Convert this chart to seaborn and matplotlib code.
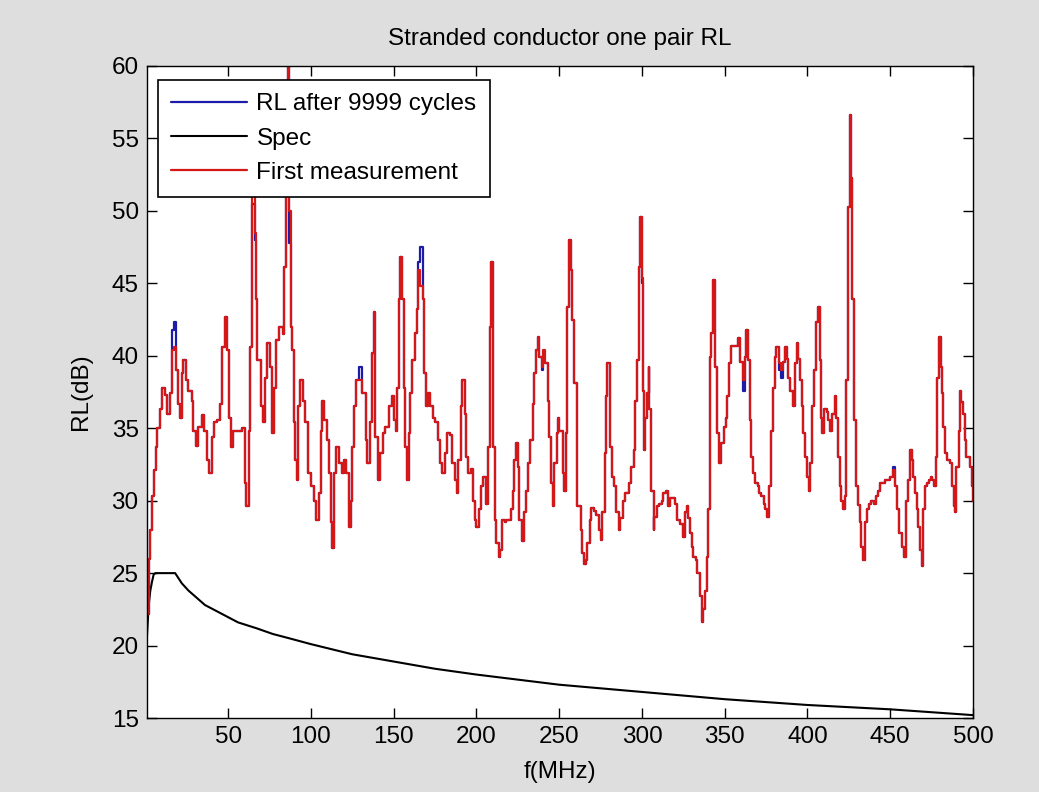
import matplotlib
matplotlib.use("Agg")
import pandas as pd
import matplotlib.pyplot as plt
import seaborn as sns

# frequency points (MHz)
freq = [1, 2, 2.5, 4, 5, 6.5, 7, 9, 10, 12,
        13, 15, 16, 17, 18.5, 20, 21, 22, 23, 24.5,
        26, 28, 29, 30.5, 32, 34, 35.5, 37, 38.5, 40,
        41.5, 43, 45, 46.5, 48, 49.5, 50.5, 52, 53, 57,
        58.5, 60, 61, 62.5, 63.5, 64.5, 66, 67, 67.5, 70,
        71, 72, 73.5, 75, 76.5, 78, 79, 81, 83, 84,
        85, 86, 87, 88, 88.5, 89.5, 90.5, 91.5, 92.5, 93.5,
        95, 96.5, 98, 100, 102, 103, 105, 106, 107, 108,
        109.5, 111, 112, 113, 114, 115, 117, 119, 120, 121,
        123, 124, 125, 126, 127.5, 129, 131, 133, 134, 136,
        137, 138, 139, 140.5, 142, 143.5, 145, 147, 149, 150,
        151.5, 152, 153, 154, 155, 156, 157, 158, 159, 160,
        161, 163, 164, 165, 166, 167.5, 168.5, 169.5, 170.5, 172,
        173.5, 175, 176.5, 178, 179.5, 181, 182.5, 184, 185.5, 187,
        188, 189, 190.5, 191.5, 193, 193.5, 195, 196.5, 198, 199,
        200, 201.5, 202.5, 204, 205.5, 206, 207, 208, 209, 210,
        211, 212, 213.5, 214.5, 215.5, 217, 218, 219.5, 221, 222,
        223, 224, 225, 226, 227.5, 228.5, 230, 231, 232.5, 234,
        235, 236, 237, 238, 239.5, 240.5, 241.5, 243, 244, 245,
        246, 247, 248.5, 249, 250, 252, 253, 254, 255, 256,
        257, 258, 259, 260.5, 261, 263, 264, 265, 266, 267,
        268.5, 269.5, 271, 272.5, 274, 275, 276, 277.5, 278.5, 279,
        280.5, 282, 283, 284.5, 286, 287, 288.5, 289.5, 291, 292,
        293.5, 295, 296, 297, 298, 299, 300, 300.5, 301, 302,
        303, 304, 304.5, 305.5, 307, 307.5, 309, 310.5, 312, 313,
        314.5, 315.5, 317, 318.5, 320, 321, 323, 324.5, 326, 327,
        328, 329, 330, 331, 332.5, 333.5, 335, 336, 337, 338,
        339, 340, 341, 342, 343, 344, 345.5, 346.5, 348, 349.5,
        350.5, 351.5, 352.5, 354, 356.5, 358, 359.5, 361, 362, 363,
        364, 365.5, 366, 367, 368.5, 370, 371, 372, 373.5, 374.5,
        375.5, 376.5, 378, 379, 380.5, 381, 383, 384, 385, 386.5,
        387.5, 388.5, 389.5, 391, 392.5, 393.5, 394.5, 395.5, 396.5, 397.5,
        398.5, 399.5, 401, 401.5, 403, 404, 405, 406.5, 407.5, 408,
        409, 410, 411.5, 412.5, 413.5, 415, 416.5, 417.5, 418.5, 419.5,
        420.5, 421.5, 422.5, 423, 423.5, 424.5, 425.5, 426, 427, 428,
        429.5, 430.5, 431.5, 432.5, 433.5, 434.5, 436, 437, 438.5, 440,
        441.5, 442.5, 444, 445.5, 447, 448.5, 450, 451.5, 453, 454,
        455.5, 457, 458.5, 459.5, 461, 462, 463, 464, 465, 466,
        467, 468, 469, 470, 471, 472, 473.5, 474.5, 475.5, 476.5,
        477.5, 478, 479.5, 480.5, 481, 482, 483, 484.5, 486, 487,
        488.5, 489, 490, 491.5, 492, 493, 494, 495, 496, 497,
        498, 499.5, 500]

# first measurement RL (dB)
rl_first = [22.2, 26.0, 28.0, 30.3, 32.1, 33.7, 35.0, 36.3, 37.8, 37.3,
            36.0, 37.4, 40.4, 40.6, 39.0, 36.7, 35.7, 38.8, 39.7, 38.3,
            37.6, 36.9, 34.8, 33.8, 35.1, 35.9, 34.8, 32.8, 31.9, 34.4,
            35.4, 35.6, 36.7, 40.6, 42.7, 40.4, 35.7, 33.7, 34.8, 34.8,
            35.0, 31.2, 29.6, 34.8, 40.6, 52.0, 48.5, 43.9, 39.7, 36.5,
            35.4, 38.5, 40.9, 39.2, 34.7, 37.8, 41.1, 42.0, 41.5, 46.1,
            52.0, 61.0, 50.0, 42.0, 40.4, 35.4, 32.8, 31.4, 36.5, 38.3,
            36.9, 35.4, 31.9, 31.0, 30.0, 28.7, 30.5, 34.8, 36.9, 35.6,
            34.2, 31.9, 28.5, 26.7, 31.9, 33.7, 32.6, 31.9, 32.8, 31.9,
            28.2, 30.0, 33.7, 36.5, 38.3, 38.3, 37.4, 34.2, 32.6, 35.4,
            40.2, 43.0, 34.4, 31.4, 33.3, 34.7, 35.1, 36.5, 37.2, 35.6,
            34.8, 37.8, 43.9, 46.8, 43.9, 37.8, 33.7, 31.4, 34.7, 37.4,
            39.7, 41.6, 43.2, 45.9, 44.8, 43.9, 38.8, 36.5, 37.4, 36.5,
            35.7, 35.4, 34.2, 32.6, 31.9, 33.3, 34.7, 34.5, 32.6, 31.4,
            30.5, 32.8, 36.5, 38.3, 36.0, 33.0, 31.9, 32.2, 30.0, 28.7,
            28.2, 29.4, 31.0, 31.6, 30.7, 29.8, 33.7, 42.0, 46.5, 33.7,
            28.7, 27.1, 26.1, 26.6, 28.7, 28.5, 28.7, 28.7, 29.4, 30.7,
            32.8, 34.0, 32.3, 28.7, 27.2, 29.2, 30.7, 32.6, 34.2, 36.7,
            38.8, 40.4, 41.3, 39.9, 39.2, 40.4, 39.5, 36.9, 34.4, 31.2,
            29.6, 32.6, 34.7, 35.7, 34.8, 31.9, 30.7, 34.7, 43.4, 48.0,
            45.9, 42.5, 38.1, 33.0, 29.6, 28.0, 26.4, 25.6, 25.9, 27.1,
            28.7, 29.5, 29.3, 29.0, 28.0, 27.3, 29.2, 33.3, 37.2, 39.5,
            33.7, 31.6, 31.0, 29.2, 28.0, 28.8, 30.0, 30.5, 30.5, 31.2,
            32.3, 33.5, 36.9, 39.7, 46.1, 49.6, 45.4, 37.6, 33.5, 35.7,
            37.4, 39.2, 36.3, 30.7, 28.0, 28.9, 29.6, 29.8, 30.0, 30.5,
            30.7, 29.6, 30.2, 30.2, 29.8, 28.7, 28.4, 27.5, 29.2, 29.6,
            28.8, 27.8, 26.8, 26.1, 25.9, 25.0, 23.4, 21.6, 22.5, 23.8,
            26.1, 29.4, 39.9, 41.6, 45.2, 39.2, 34.7, 32.6, 34.0, 35.1,
            35.7, 37.2, 39.5, 40.7, 40.7, 41.2, 39.6, 38.3, 39.9, 41.8,
            39.7, 35.6, 33.0, 31.9, 31.2, 31.0, 30.5, 30.3, 29.8, 29.4,
            28.9, 31.0, 34.8, 37.8, 39.9, 40.6, 39.5, 39.0, 39.6, 40.6,
            39.8, 38.5, 37.6, 36.5, 39.5, 40.9, 39.8, 38.3, 36.5, 34.7,
            33.0, 31.6, 30.7, 32.6, 36.5, 39.0, 42.3, 43.4, 39.7, 35.7,
            34.7, 36.3, 36.1, 35.6, 34.8, 36.0, 37.2, 35.7, 33.0, 31.0,
            30.0, 29.4, 30.3, 31.6, 38.3, 50.3, 56.6, 52.3, 43.9, 35.6,
            31.0, 29.7, 28.5, 26.8, 25.9, 28.5, 29.4, 29.8, 30.0, 29.8,
            30.3, 30.7, 31.2, 31.2, 31.4, 31.4, 31.6, 32.1, 31.0, 29.4,
            27.8, 26.8, 26.1, 30.0, 31.4, 33.5, 32.8, 31.6, 30.5, 29.4,
            28.2, 26.6, 25.5, 29.4, 31.0, 31.2, 31.4, 31.6, 31.4, 31.0,
            33.0, 38.5, 41.3, 39.2, 37.4, 35.1, 33.3, 32.8, 32.6, 31.0,
            29.6, 29.2, 32.3, 34.8, 37.6, 36.8, 36.0, 34.2, 33.0, 33.0,
            32.3, 31.0, 30.0]

# points where the 9999-cycle trace differs from the first measurement
cycles_freq = [16, 17, 64.5, 66, 87, 129, 165, 166, 239.5, 240.5, 300, 361, 383, 384, 451.5]
cycles_db = [41.8, 42.3, 50.5, 48.0, 47.8, 39.2, 46.5, 47.5, 39.0, 39.6, 45.0, 37.6, 39.0, 38.5, 32.3]

# spec limit
spec_f = [1, 2, 3, 4, 5, 6, 10, 18, 22, 26, 30, 36, 46, 56, 67, 77, 87, 100,
          125, 150, 175, 200, 250, 300, 350, 400, 450, 500]
spec_db = [20.7, 22.8, 23.8, 24.4, 24.9, 25.0, 25.0, 25.0, 24.3, 23.8, 23.4, 22.8, 22.2,
           21.6, 21.2, 20.8, 20.5, 20.1, 19.4, 18.9, 18.4, 18.0, 17.3, 16.8, 16.3, 15.9, 15.6, 15.2]

overrides = dict(zip(cycles_freq, cycles_db))
rl_cycles = [overrides.get(f, v) for f, v in zip(freq, rl_first)]

df = pd.DataFrame({"f": freq, "first": rl_first, "cycles": rl_cycles})
spec = pd.DataFrame({"f": spec_f, "spec": spec_db})

sns.set_style("ticks")
plt.rcParams["font.family"] = ["Liberation Sans", "DejaVu Sans"]
plt.rcParams["text.color"] = "black"
plt.rcParams["axes.labelcolor"] = "black"
plt.rcParams["xtick.color"] = "black"
plt.rcParams["ytick.color"] = "black"
fs = 17.5

fig, ax = plt.subplots(figsize=(10.39, 7.92), dpi=100)
fig.patch.set_facecolor("#dedede")
fig.subplots_adjust(left=0.1415, right=0.9365, bottom=0.0934, top=0.9167)

sns.lineplot(data=df, x="f", y="cycles", color="#1c1ca8", lw=1.6, drawstyle="steps-post",
             errorbar=None, label="RL after 9999 cycles", ax=ax)
sns.lineplot(data=spec, x="f", y="spec", color="black", lw=1.5,
             errorbar=None, label="Spec", ax=ax)
sns.lineplot(data=df, x="f", y="first", color="#d41818", lw=1.6, drawstyle="steps-post",
             errorbar=None, label="First measurement", ax=ax)

ax.set_xlim(1, 500)
ax.set_ylim(15, 60)
ax.set_xticks(range(50, 501, 50))
ax.set_yticks(range(15, 61, 5))
ax.tick_params(direction="in", top=True, right=True, length=7, width=1, labelsize=fs, pad=6)
for s in ax.spines.values():
    s.set_color("black")
    s.set_linewidth(1)

ax.set_title("Stranded conductor one pair RL", fontsize=fs, pad=15)
ax.set_xlabel("f(MHz)", fontsize=fs, labelpad=9)
ax.set_ylabel("RL(dB)", fontsize=fs, labelpad=14)

leg = ax.legend(loc="upper left", bbox_to_anchor=(0.0133, 0.9785), borderaxespad=0,
                fontsize=fs, handlelength=3.1, handletextpad=0.4, labelspacing=0.5,
                borderpad=0.55, frameon=True, fancybox=False, edgecolor="black", framealpha=1)
leg.get_frame().set_linewidth(1.2)

plt.savefig("out.png", dpi=100, facecolor=fig.get_facecolor())
